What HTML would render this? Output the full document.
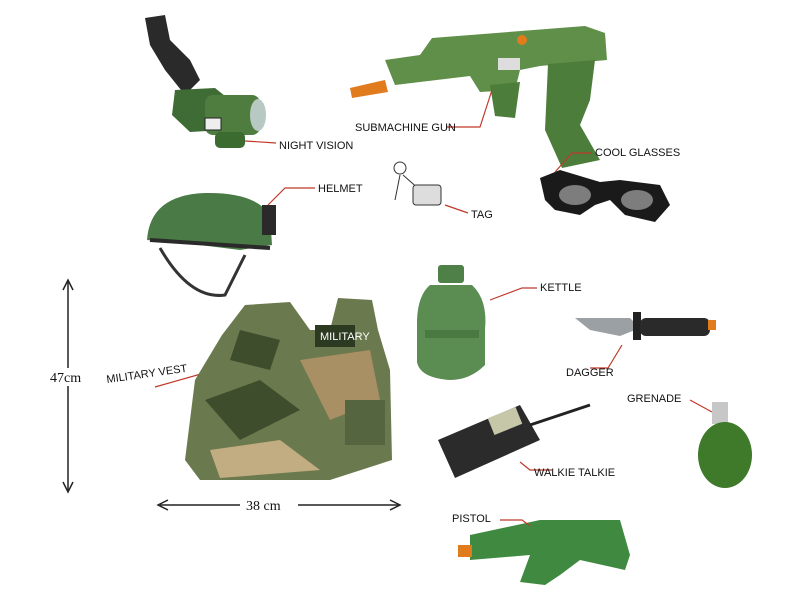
<!DOCTYPE html>
<html><head><meta charset="utf-8"><style>
html,body{margin:0;padding:0;background:#fff;}
svg{display:block;}
text{font-family:"Liberation Sans",sans-serif;font-size:11px;fill:#111;}
</style></head><body>
<svg width="800" height="600" viewBox="0 0 800 600" xmlns="http://www.w3.org/2000/svg">
<rect width="800" height="600" fill="#fff"/>
<!-- Night vision -->
<g>
<path d="M145 18 L165 15 L170 40 L190 60 L200 80 L185 95 L165 70 L150 45 Z" fill="#2a2a2a"/>
<path d="M175 90 L215 88 L230 100 L225 130 L190 132 L172 115 Z" fill="#3f6b35"/>
<rect x="205" y="95" width="55" height="40" rx="8" fill="#4f7d3f"/>
<ellipse cx="258" cy="115" rx="8" ry="16" fill="#b8c9c4"/>
<rect x="205" y="118" width="16" height="12" fill="#eee" stroke="#222"/>
<rect x="215" y="132" width="30" height="16" rx="5" fill="#3c6b30"/>
</g>
<line x1="245" y1="141" x2="276" y2="143" stroke="#c0392b" stroke-width="1.2"/>
<text x="279" y="149">NIGHT VISION</text>
<!-- SMG -->
<g>
<path d="M385 60 L420 55 L432 38 L585 26 L605 33 L607 60 L540 66 L520 70 L515 90 L480 92 L470 76 L395 85 Z" fill="#5f8f48"/>
<path d="M350 88 L385 80 L388 92 L352 98 Z" fill="#e07b1e"/>
<path d="M548 64 L595 60 L590 100 L580 125 L600 160 L562 168 L545 130 Z" fill="#4d7d3a"/>
<path d="M490 85 L520 82 L515 118 L495 116 Z" fill="#4d7d3a"/>
<circle cx="522" cy="40" r="5" fill="#e07b1e"/>
<rect x="498" y="58" width="22" height="12" fill="#ddd"/>
</g>
<path d="M446 127 L480 127 L492 90" fill="none" stroke="#c0392b" stroke-width="1.2"/>
<text x="355" y="131" font-size="10">SUBMACHINE GUN</text>
<!-- Tag -->
<g stroke="#333" fill="none">
<circle cx="400" cy="168" r="6"/>
<path d="M400 175 L395 200 M403 175 L420 190"/>
<rect x="413" y="185" width="28" height="20" rx="3" fill="#ddd"/>
</g>
<line x1="445" y1="205" x2="468" y2="213" stroke="#c0392b" stroke-width="1.2"/>
<text x="471" y="218">TAG</text>
<!-- Glasses -->
<g>
<path d="M540 178 L560 170 L600 182 L620 180 L660 185 L670 205 L655 222 L625 215 L610 200 L595 205 L580 215 L555 210 L545 200 Z" fill="#1a1a1a"/>
<ellipse cx="575" cy="195" rx="16" ry="10" fill="#7d7d7d"/>
<ellipse cx="637" cy="200" rx="16" ry="10" fill="#7d7d7d"/>
</g>
<path d="M555 172 L572 153 L592 153" fill="none" stroke="#c0392b" stroke-width="1.2"/>
<text x="595" y="156" font-size="10">COOL GLASSES</text>
<!-- Helmet -->
<g>
<path d="M147 240 Q150 195 205 193 Q255 192 270 215 L272 245 L240 250 L200 245 Z" fill="#4a7a45"/>
<path d="M150 240 L270 248" stroke="#2a2a2a" stroke-width="4"/>
<path d="M160 248 Q190 300 225 295 L245 255" fill="none" stroke="#333" stroke-width="3"/>
<rect x="262" y="205" width="14" height="30" fill="#2a2a2a"/>
</g>
<path d="M268 205 L285 188 L315 188" fill="none" stroke="#c0392b" stroke-width="1.2"/>
<text x="318" y="192" font-size="12">HELMET</text>
<!-- vertical measure -->
<line x1="68" y1="282" x2="68" y2="490" stroke="#222" stroke-width="1.5"/>
<path d="M63 290 L68 280 L73 290 M63 482 L68 492 L73 482" fill="none" stroke="#222" stroke-width="1.5"/>
<rect x="48" y="368" width="44" height="18" fill="#fff"/>
<text x="50" y="382" style="font-family:'Liberation Serif',serif;font-size:14px">47cm</text>
<text x="107" y="383" transform="rotate(-8 107 383)" font-size="11">MILITARY VEST</text>
<line x1="155" y1="387" x2="215" y2="370" stroke="#c0392b" stroke-width="1.2"/>
<!-- Vest -->
<g>
<path d="M245 305 L290 302 L310 330 L330 330 L338 298 L372 300 L378 330 L390 370 L392 460 L330 480 L200 480 L185 460 L195 380 L222 335 Z" fill="#6b7a4e"/>
<path d="M205 400 L260 380 L300 410 L240 440 Z" fill="#3e4e2c"/>
<path d="M300 360 L370 350 L380 400 L330 420 Z" fill="#a88f64"/>
<path d="M210 450 L280 440 L320 470 L220 478 Z" fill="#c2ad82"/>
<path d="M240 330 L280 340 L270 370 L230 360 Z" fill="#3e4e2c"/>
<rect x="315" y="325" width="40" height="22" fill="#2d3a22"/>
<text x="320" y="340" font-size="8" style="fill:#fff">MILITARY</text>
<rect x="345" y="400" width="40" height="45" fill="#55653f"/>
</g>
<!-- horizontal measure -->
<line x1="160" y1="505" x2="398" y2="505" stroke="#222" stroke-width="1.5"/>
<path d="M168 500 L158 505 L168 510 M390 500 L400 505 L390 510" fill="none" stroke="#222" stroke-width="1.5"/>
<rect x="240" y="496" width="58" height="18" fill="#fff"/>
<text x="246" y="510" style="font-family:'Liberation Serif',serif;font-size:14px">38 cm</text>
<!-- Kettle -->
<g>
<rect x="438" y="265" width="26" height="18" rx="3" fill="#4f8048"/>
<path d="M430 285 L472 285 Q488 300 485 330 L485 365 Q470 380 450 380 Q420 378 417 362 L417 320 Q418 295 430 285 Z" fill="#5b8c52"/>
<rect x="425" y="330" width="54" height="8" fill="#4a7a42"/>
</g>
<path d="M490 300 L522 288 L537 288" fill="none" stroke="#c0392b" stroke-width="1.2"/>
<text x="540" y="291" font-size="12">KETTLE</text>
<!-- Dagger -->
<g>
<path d="M575 318 L630 318 L640 328 L620 336 L590 330 Z" fill="#9aa0a3"/>
<rect x="633" y="312" width="8" height="28" fill="#222"/>
<rect x="640" y="318" width="70" height="18" rx="6" fill="#2a2a2a"/>
<rect x="708" y="320" width="8" height="10" fill="#e07b1e"/>
</g>
<path d="M622 345 L608 368 L590 368" fill="none" stroke="#c0392b" stroke-width="1.2"/>
<text x="566" y="376" font-size="12">DAGGER</text>
<!-- Grenade -->
<g>
<rect x="712" y="402" width="16" height="22" fill="#c7c7c7"/>
<ellipse cx="725" cy="455" rx="27" ry="33" fill="#3e7a2a"/>
</g>
<path d="M690 400 L712 412" fill="none" stroke="#c0392b" stroke-width="1.2"/>
<text x="627" y="402" font-size="11">GRENADE</text>
<!-- Walkie -->
<g>
<path d="M438 440 L520 405 L540 440 L455 478 Z" fill="#2b2b2b"/>
<rect x="490" y="412" width="30" height="18" fill="#c5c7a8" transform="rotate(-22 505 421)"/>
<line x1="530" y1="425" x2="590" y2="405" stroke="#222" stroke-width="3"/>
</g>
<path d="M520 462 L530 470 L552 470" fill="none" stroke="#c0392b" stroke-width="1.2"/>
<text x="534" y="476" font-size="11">WALKIE TALKIE</text>
<!-- Pistol -->
<g>
<path d="M470 535 L540 520 L620 520 L630 555 L625 570 L580 560 L560 575 L545 585 L520 582 L530 555 L470 560 Z" fill="#3f8a40"/>
<rect x="458" y="545" width="14" height="12" fill="#e07b1e"/>
</g>
<path d="M500 520 L522 520 L530 526" fill="none" stroke="#c0392b" stroke-width="1.2"/>
<text x="452" y="522" font-size="12">PISTOL</text>
</svg>
</body></html>
